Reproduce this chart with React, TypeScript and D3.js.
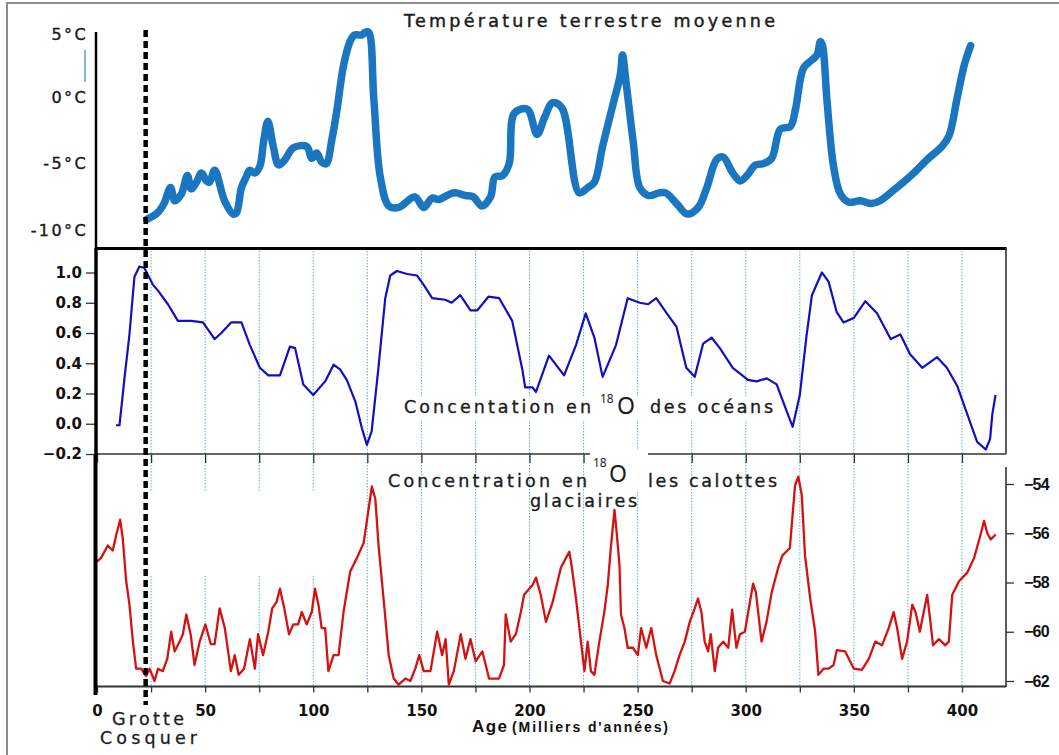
import * as d3 from 'd3';
import { useEffect, useRef } from 'react';

const TEMP_COLOR = '#1b76c2';
const OCEAN_COLOR = '#1010c2';
const ICE_COLOR = '#d41212';
const GRID_COLOR = '#5ab4d8';

// axis ticks
const ageTicks = [0, 25, 50, 75, 100, 125, 150, 175, 200, 225, 250, 275, 300, 325, 350, 375, 400];
const ageLabels = ['0', '50', '100', '150', '200', '250', '300', '350', '400'];
const tempTicks = [5, 0, -5, -10];
const tempTickLabels = ['5°C', '0°C', '-5°C', '-10°C'];
const oceanTicks = [-0.2, 0, 0.2, 0.4, 0.6, 0.8, 1.0];
const iceTicks = [-54, -56, -58, -60, -62];

const cosquerAge = 22.5;

// Température terrestre moyenne (°C)
const tempAges = [
    23, 28, 31, 34, 36, 39, 41.8, 43.6, 46, 48.3,
    50.6, 52, 54.4, 59, 63, 64.5, 66.8, 69, 70.6, 73,
    75.3, 77, 79, 81.5, 84, 86.9, 90.8, 97, 99.3, 101.6,
    104, 106, 108.6, 111, 114, 117, 119, 122.5, 124, 125.6,
    128, 131, 135, 139.6, 147, 151, 155, 158, 163, 165.7,
    170.4, 174, 178, 182, 184, 187.5, 190.6, 193, 199, 203.5,
    207, 210.7, 215, 223, 227, 230, 233.8, 238.5, 242, 243,
    244.6, 248, 251, 255, 260, 263, 268, 273, 278, 282,
    286.5, 289.5, 294, 297.5, 300.5, 304.5, 308, 312, 316, 320.6,
    323, 326.7, 330.5, 333, 334.5, 335.5, 337.5, 340.6, 343.8, 347.6,
    353, 358, 362, 368.4, 377.7, 383.8, 390.7, 394, 397.7, 401,
    404,
];
const tempValues = [
    -9.2, -8.7, -8.0, -6.8, -7.8, -7.3, -5.9, -6.9, -6.4, -5.7,
    -6.3, -6.4, -5.5, -7.8, -8.8, -8.7, -6.8, -6.0, -5.5, -5.7,
    -5.2, -3.4, -1.8, -3.7, -5.1, -4.7, -3.8, -3.7, -4.6, -4.2,
    -4.9, -5.0, -3.2, -0.9, 2.4, 4.2, 4.7, 4.7, 4.9, 4.9,
    -0.1, -6.0, -8.2, -8.3, -7.5, -8.3, -7.6, -7.7, -7.3, -7.2,
    -7.4, -7.5, -8.2, -7.5, -6.0, -5.9, -5.0, -1.2, -0.9, -2.8,
    -1.5, -0.4, -0.8, -7.2, -6.8, -6.4, -3.7, -0.6, 1.7, 3.2,
    1.2, -3.4, -6.8, -7.4, -7.2, -7.2, -8.0, -8.8, -8.3, -6.8,
    -4.7, -4.5, -5.7, -6.3, -5.9, -5.1, -5.0, -4.6, -2.4, -2.2,
    -0.9, 2.2, 2.8, 3.2, 4.2, 3.9, -0.1, -5.2, -7.3, -7.9,
    -7.8, -8.0, -7.8, -7.0, -5.7, -4.7, -3.7, -2.9, -0.1, 2.4,
    3.9,
];

// Concentation en 18O des océans
const oceanAges = [
    8.8, 10.4, 12.7, 15, 17.3, 19.6, 21.9, 25.8, 28.2, 32.8,
    37.4, 43.6, 49, 54.4, 57.5, 62, 66.8, 70.7, 75.3, 79.2,
    84.6, 89.2, 91.6, 95.4, 100, 105.5, 109.4, 112.4, 115.5, 119.4,
    122.5, 124.8, 127, 130, 133.3, 135.6, 138.7, 143.4, 148, 151,
    155, 161, 164, 168, 172.7, 175.9, 181, 186, 192, 196.8,
    198, 201.4, 203, 209, 216, 221.5, 226, 230, 233.8, 240,
    245.4, 251, 254.8, 258.6, 263, 268, 272.5, 276.4, 280.3, 284.2,
    288, 294, 301, 305, 309.7, 314.3, 319, 321.7, 325, 328,
    330.6, 335.2, 338.3, 342, 345.2, 350, 355.3, 360.7, 367, 371.5,
    376, 381.6, 388.5, 393, 397.8, 402.5, 407, 411, 413, 414,
    415.5,
];
const oceanValues = [
    -0.01, -0.01, 0.30, 0.59, 0.97, 1.04, 1.03, 0.92, 0.88, 0.79,
    0.68, 0.68, 0.67, 0.56, 0.60, 0.67, 0.67, 0.52, 0.37, 0.32,
    0.32, 0.51, 0.50, 0.26, 0.19, 0.28, 0.39, 0.36, 0.29, 0.15,
    -0.03, -0.14, -0.05, 0.35, 0.83, 0.98, 1.01, 0.99, 0.98, 0.92,
    0.83, 0.82, 0.80, 0.85, 0.75, 0.75, 0.84, 0.83, 0.68, 0.35,
    0.24, 0.24, 0.21, 0.45, 0.32, 0.52, 0.73, 0.57, 0.31, 0.52,
    0.83, 0.80, 0.79, 0.83, 0.74, 0.64, 0.37, 0.31, 0.53, 0.57,
    0.50, 0.37, 0.29, 0.28, 0.30, 0.26, 0.08, -0.02, 0.19, 0.57,
    0.85, 1.00, 0.94, 0.74, 0.67, 0.70, 0.81, 0.73, 0.56, 0.59,
    0.46, 0.37, 0.44, 0.37, 0.25, 0.06, -0.12, -0.17, -0.10, 0.06,
    0.19,
];

// Concentration en 18O dans les calottes glaciaires
const iceAges = [
    0, 1.9, 5, 7.3, 8.8, 10.7, 11.9, 13.5, 15, 16.6,
    18.1, 20.4, 22.7, 24.3, 26.6, 28.2, 30.4, 32.5, 34.3, 35.9,
    38.2, 39.7, 41.3, 43.3, 45.1, 47.5, 50.1, 52.6, 54.4, 56.7,
    59.1, 61.9, 63.7, 65.5, 68, 70.7, 73, 74.5, 76.8, 79.2,
    81, 83, 84.6, 86.6, 88.8, 90.8, 93, 94.7, 97, 99.3,
    100.8, 102.4, 103.9, 105.5, 107, 109.4, 111.7, 114, 117.1, 120.2,
    123.3, 124.8, 127.1, 128.7, 130.2, 132.5, 134.9, 137.2, 139.5, 142.6,
    144.9, 147.2, 149, 151.1, 154.2, 157.3, 159.6, 161.2, 162.7, 165,
    168.2, 170.4, 172.7, 175.1, 178.2, 181.3, 185.9, 188.2, 189, 191.3,
    193.7, 196, 197.5, 201.4, 203, 205.2, 207.6, 210.7, 214.5, 216.9,
    218.4, 219.6, 221.5, 223.8, 225.4, 226.9, 228.4, 230, 232.3, 234.6,
    236.2, 237.7, 239.3, 240.3, 241.6, 242.3, 243.9, 245.4, 247.8, 250.1,
    251.6, 254, 256.3, 258.6, 261.7, 264.8, 267.1, 269.4, 271.8, 274.1,
    276.4, 277.9, 279.5, 281, 282.6, 283.8, 285.7, 287.2, 289.5, 291.9,
    293.7, 295.7, 297.3, 299.6, 301.9, 303.4, 304.7, 307.3, 309.6, 312,
    315, 317, 320.4, 322.8, 324.3, 325.9, 327.4, 329.8, 332.1, 333.6,
    336, 338.3, 340.6, 342.1, 346, 350, 353.7, 356.9, 359.9, 363,
    366.1, 368.4, 370, 372.3, 374.6, 377, 378.5, 380.5, 382.3, 383.9,
    385.4, 386.6, 389.3, 392.3, 393.9, 395.5, 398.6, 402.4, 405.6, 408.6,
    410.2, 411.7, 413.3, 415.6,
];
const iceValues = [
    -57.15, -57.0, -56.5, -56.7, -56.1, -55.45, -56.2, -57.95, -58.9, -60.4,
    -61.5, -61.5, -61.8, -61.5, -62.0, -61.5, -61.6, -61.1, -60.0, -60.8,
    -60.4, -60.1, -59.3, -60.1, -61.35, -60.4, -59.7, -60.5, -60.5, -59.05,
    -59.85, -61.6, -60.95, -61.75, -61.5, -60.3, -61.5, -60.1, -60.95, -60.0,
    -59.05, -58.8, -58.25, -59.05, -60.1, -59.7, -59.7, -59.2, -59.7, -59.2,
    -58.25, -58.9, -59.85, -59.85, -61.6, -60.95, -60.95, -59.2, -57.55, -57.0,
    -56.4, -55.5, -54.1, -54.6, -56.5, -58.65, -60.95, -61.9, -62.15, -61.9,
    -62.0, -61.5, -60.95, -61.6, -61.6, -60.0, -60.95, -60.3, -62.15, -61.6,
    -60.1, -61.1, -60.3, -61.2, -60.8, -61.9, -61.9, -61.35, -59.3, -60.4,
    -60.1, -59.2, -58.5, -58.1, -57.8, -58.5, -59.6, -58.8, -57.4, -57.0,
    -56.75, -57.4, -58.65, -60.4, -61.6, -60.4, -61.6, -61.75, -60.4, -59.2,
    -58.1, -56.5, -55.05, -55.95, -57.3, -59.3, -59.85, -60.65, -60.65, -60.95,
    -59.85, -60.65, -59.85, -60.95, -62.0, -62.1, -61.6, -60.95, -60.4, -59.6,
    -59.05, -58.65, -59.2, -60.4, -60.8, -60.1, -61.6, -60.65, -60.4, -60.65,
    -59.1, -60.65, -60.1, -60.0, -58.8, -58.05, -58.4, -60.4, -59.6, -58.4,
    -57.4, -56.9, -56.6, -54.05, -53.7, -54.45, -56.9, -58.65, -60.0, -61.75,
    -61.5, -61.5, -61.35, -60.75, -60.8, -61.5, -61.55, -61.1, -60.4, -60.55,
    -59.85, -59.2, -59.85, -61.1, -60.4, -58.9, -59.2, -60.0, -59.2, -58.5,
    -59.6, -60.55, -60.3, -60.55, -60.4, -58.5, -57.95, -57.6, -57.0, -56.05,
    -55.5, -56.0, -56.25, -56.05,
];

const zip = (ages: number[], values: number[]) =>
    ages.slice(0, Math.min(ages.length, values.length)).map((a, i) => [a, values[i]] as [number, number]);

export default function App() {
    const ref = useRef<any>();

    useEffect(() => {
        const svg = d3.select<any, any>(ref.current);
        svg.selectAll('*').remove();

        const x = d3.scaleLinear().domain([0, 400]).range([97, 962]);
        const yTemp = d3.scaleLinear().domain([-10, 5]).range([230, 31]);
        const yOcean = d3.scaleLinear().domain([-0.2, 1.0]).range([454, 272.5]);
        const yIce = d3.scaleLinear().domain([-62, -54]).range([681, 484]);
        const RIGHT = 1006;

        svg.append('rect').attr('width', 1059).attr('height', 755).attr('fill', '#fff');

        // outer frame (top + left only)
        svg.append('path')
            .attr('d', 'M7,755 V3 H1059')
            .attr('fill', 'none')
            .attr('stroke', '#8c8c8c')
            .attr('stroke-width', 2);

        //gridlines
        const gridAges = ageTicks.filter((a) => a > 0);
        const grid = svg.append('g').attr('class', 'grid');
        [[251, 454], [456, 686]].forEach(([y1, y2]) => {
            grid.selectAll(null).data(gridAges).join('line')
                .attr('x1', (d) => x(d)).attr('x2', (d) => x(d))
                .attr('y1', y1).attr('y2', y2)
                .attr('stroke', GRID_COLOR)
                .attr('stroke-width', 1)
                .attr('stroke-dasharray', '1.5 1.5');
        });

        // x axis between ocean and ice panels (ticks only)
        const midAxis = svg.append('g')
            .attr('transform', 'translate(0, 454)')
            .call(d3.axisBottom(x).tickValues(ageTicks).tickSize(9).tickFormat(() => ''));
        midAxis.select('.domain').remove();
        midAxis.selectAll('line').attr('stroke', '#333').attr('stroke-width', 1.3);

        // bottom x axis
        const bottomAxis = svg.append('g')
            .attr('transform', 'translate(0, 686.5)')
            .call(d3.axisBottom(x).tickValues(ageTicks).tickSize(6).tickPadding(13)
                .tickFormat((d: any) => (ageLabels.includes(String(d)) ? String(d) : '')));
        bottomAxis.select('.domain').remove();
        bottomAxis.selectAll('line').attr('stroke', '#333').attr('stroke-width', 1.3);
        bottomAxis.selectAll('text')
            .attr('fill', '#111')
            .attr('font-family', 'DejaVu Sans')
            .attr('font-weight', 'bold')
            .attr('font-size', 15);

        // ocean y axis
        const oceanAxis = svg.append('g')
            .attr('transform', 'translate(96, 0)')
            .call(d3.axisLeft(yOcean).tickValues(oceanTicks).tickSize(10).tickPadding(4).tickFormat(d3.format('.1f')));
        oceanAxis.select('.domain').remove();
        oceanAxis.selectAll('line').attr('stroke', '#333').attr('stroke-width', 1.3);
        oceanAxis.selectAll('text')
            .attr('fill', '#111')
            .attr('font-family', 'DejaVu Sans')
            .attr('font-weight', 'bold')
            .attr('font-size', 15);

        // ice y axis (right)
        const iceAxis = svg.append('g')
            .attr('transform', `translate(${RIGHT}, 0)`)
            .call(d3.axisRight(yIce).tickValues(iceTicks).tickSize(8).tickPadding(10));
        iceAxis.select('.domain').remove();
        iceAxis.selectAll('line').attr('stroke', '#333').attr('stroke-width', 1.3);
        iceAxis.selectAll('text')
            .attr('fill', '#111')
            .attr('font-family', 'Liberation Sans')
            .attr('font-weight', 'bold')
            .attr('font-size', 16)
            .attr('letter-spacing', -0.8);

        // temperature labels
        const tempAxis = svg.append('g')
            .attr('transform', 'translate(96, 0)')
            .call(d3.axisLeft(yTemp).tickValues(tempTicks).tickSize(0).tickPadding(8)
                .tickFormat((d: any) => tempTickLabels[tempTicks.indexOf(d)]));
        tempAxis.select('.domain').remove();
        tempAxis.selectAll('text')
            .attr('fill', '#1a1a1a')
            .attr('stroke', '#1a1a1a')
            .attr('stroke-width', 0.4)
            .attr('font-family', 'DejaVu Sans')
            .attr('font-size', 16)
            .attr('letter-spacing', 2.4)
            .attr('dy', (d: any) => (d === 5 ? '0.55em' : '0.32em'));

        // frame / axis lines
        const seg = (x1: number, y1: number, x2: number, y2: number, w: number, c: string) =>
            svg.append('line').attr('x1', x1).attr('y1', y1).attr('x2', x2).attr('y2', y2)
                .attr('stroke', c).attr('stroke-width', w);
        seg(95, 248.5, RIGHT + 0.5, 248.5, 3, '#000');
        seg(RIGHT, 248, RIGHT, 454, 1.6, '#333');
        seg(96, 454, RIGHT, 454, 1.6, '#333');
        seg(96, 686.5, RIGHT, 686.5, 2, '#333');
        seg(RIGHT, 467, RIGHT, 687, 1.6, '#333');

        // white patches (label backgrounds)
        const patches = [
            [140, 491, 195, 85],
            [400, 396, 380, 24],
            [590, 450, 58, 40],
        ];
        svg.append('g').selectAll('rect').data(patches).join('rect')
            .attr('x', (d) => d[0]).attr('y', (d) => d[1])
            .attr('width', (d) => d[2]).attr('height', (d) => d[3])
            .attr('fill', '#fff');

        // curves
        const line = (yScale: any, curve: any) => d3.line<[number, number]>()
            .x((d) => x(d[0]))
            .y((d) => yScale(d[1]))
            .curve(curve);

        svg.append('path')
            .datum(zip(iceAges, iceValues))
            .attr('d', line(yIce, d3.curveLinear))
            .attr('fill', 'none')
            .attr('stroke', ICE_COLOR)
            .attr('stroke-width', 2.3)
            .attr('stroke-linejoin', 'round');

        svg.append('path')
            .datum(zip(oceanAges, oceanValues))
            .attr('d', line(yOcean, d3.curveLinear))
            .attr('fill', 'none')
            .attr('stroke', OCEAN_COLOR)
            .attr('stroke-width', 2.2)
            .attr('stroke-linejoin', 'round');

        svg.append('path')
            .datum(zip(tempAges, tempValues))
            .attr('d', line(yTemp, d3.curveCatmullRom.alpha(0.5)))
            .attr('fill', 'none')
            .attr('stroke', TEMP_COLOR)
            .attr('stroke-width', 7.5)
            .attr('stroke-linejoin', 'round')
            .attr('stroke-linecap', 'round');

        // thick left axes
        seg(96, 32, 96, 249, 2.5, '#000');
        seg(96, 248, 96, 455, 3.5, '#000');
        seg(95.5, 455, 95.5, 695, 4, '#000');

        // small stray blue mark left of the temperature axis
        seg(85, 50, 85, 82, 1.5, '#5a9fd2');

        // Grotte Cosquer marker
        seg(x(cosquerAge), 30, x(cosquerAge), 705, 4.5, '#000')
            .attr('stroke-dasharray', '7 4');

        const text = (t: string, tx: number, ty: number, size: number, opts: any = {}) => {
            const el = svg.append('text')
                .attr('x', tx).attr('y', ty)
                .attr('font-family', opts.family || 'DejaVu Sans')
                .attr('font-size', size)
                .attr('font-weight', opts.weight || 'normal')
                .attr('fill', opts.fill || '#1c1c1c')
                .text(t);
            if (opts.len) el.attr('textLength', opts.len).attr('lengthAdjust', 'spacing');
            if (opts.anchor) el.attr('text-anchor', opts.anchor);
            if (opts.stroke) el.attr('stroke', el.attr('fill')).attr('stroke-width', opts.stroke);
            return el;
        };

        text('Température terrestre moyenne', 404, 27, 17.5, { len: 371, stroke: 0.45 });

        text('Concentation en', 404, 413, 17.5, { len: 187, stroke: 0.35 });
        text('18', 600, 403, 12, { family: 'Noto Sans' });
        text('O', 617, 414, 23, { family: 'Noto Sans' });
        text('des océans', 650, 413, 17.5, { len: 123, stroke: 0.35 });

        text('Concentration en', 388, 487, 17.5, { len: 199, stroke: 0.35 });
        text('18', 593, 467, 12, { family: 'Noto Sans' });
        text('O', 609, 482, 23, { family: 'Noto Sans' });
        text('les calottes', 648, 487, 17.5, { len: 129, stroke: 0.35 });
        text('glaciaires', 530, 507, 17.5, { len: 107, stroke: 0.35 });

        text('Grotte', 112, 725, 17.5, { len: 72, stroke: 0.3 });
        text('Cosquer', 100, 744, 17.5, { len: 97, stroke: 0.3 });

        text('Age', 472, 732, 17, { family: 'Liberation Sans', weight: 'bold', len: 35, fill: '#111' });
        text("(Milliers d'années)", 512, 732, 14, { family: 'Liberation Sans', weight: 'bold', len: 156, fill: '#111' });
    });

    return (
        <div style={{ position: 'absolute', left: 0, top: 0 }}>
            <svg ref={ref} width={1059} height={755} style={{ display: 'block' }}></svg>
        </div>
    );
}
